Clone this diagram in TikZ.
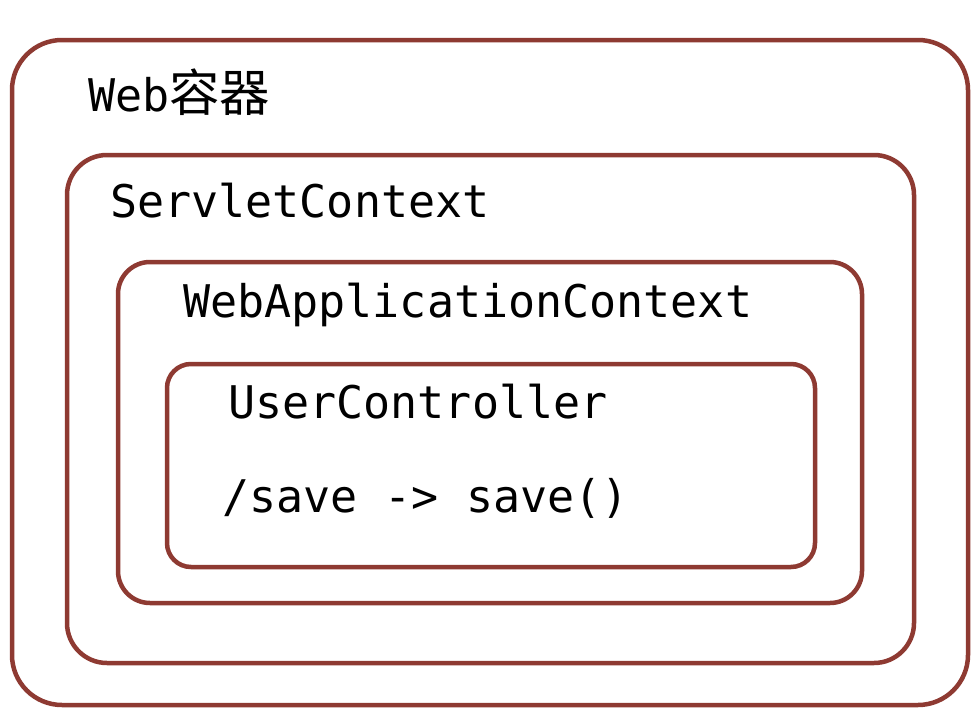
\documentclass[tikz,border=0pt]{standalone}
\usepackage{fontspec}
\setmonofont{DejaVu Sans Mono}
\newfontfamily\cjk{Noto Sans CJK SC}[Scale=1.12]
\definecolor{boxred}{RGB}{142,58,50}
\begin{document}
\begin{tikzpicture}[x=1pt,y=-1pt,
  frame/.style={draw=boxred,line width=4.5pt,fill=none,inner sep=0pt,rectangle},
  lbl/.style={anchor=base west,inner sep=0pt,font=\fontsize{45}{54}\selectfont\ttfamily,text=black}]
\useasboundingbox[fill=white] (0,0) rectangle (980,712);
\node[frame,rounded corners=50pt,minimum width=956pt,minimum height=665pt] (web) at (490,372.5) {};
\node[frame,rounded corners=40pt,minimum width=847pt,minimum height=508pt] (sc) at (490.5,409) {};
\node[frame,rounded corners=32pt,minimum width=744pt,minimum height=341pt] (wac) at (490,432.5) {};
\node[frame,rounded corners=24pt,minimum width=648pt,minimum height=203pt] (uc) at (491,465.5) {};
\node[lbl] (tweb) at (88,111) {Web{\cjk 容器}};
\node[lbl] (tsc) at (110,217) {ServletContext};
\node[lbl] (twac) at (183,317) {WebApplicationContext};
\node[lbl] (tuc) at (228,418) {UserController};
\node[lbl] (tsave) at (222,512) {/save -> save()};
\end{tikzpicture}
\end{document}
